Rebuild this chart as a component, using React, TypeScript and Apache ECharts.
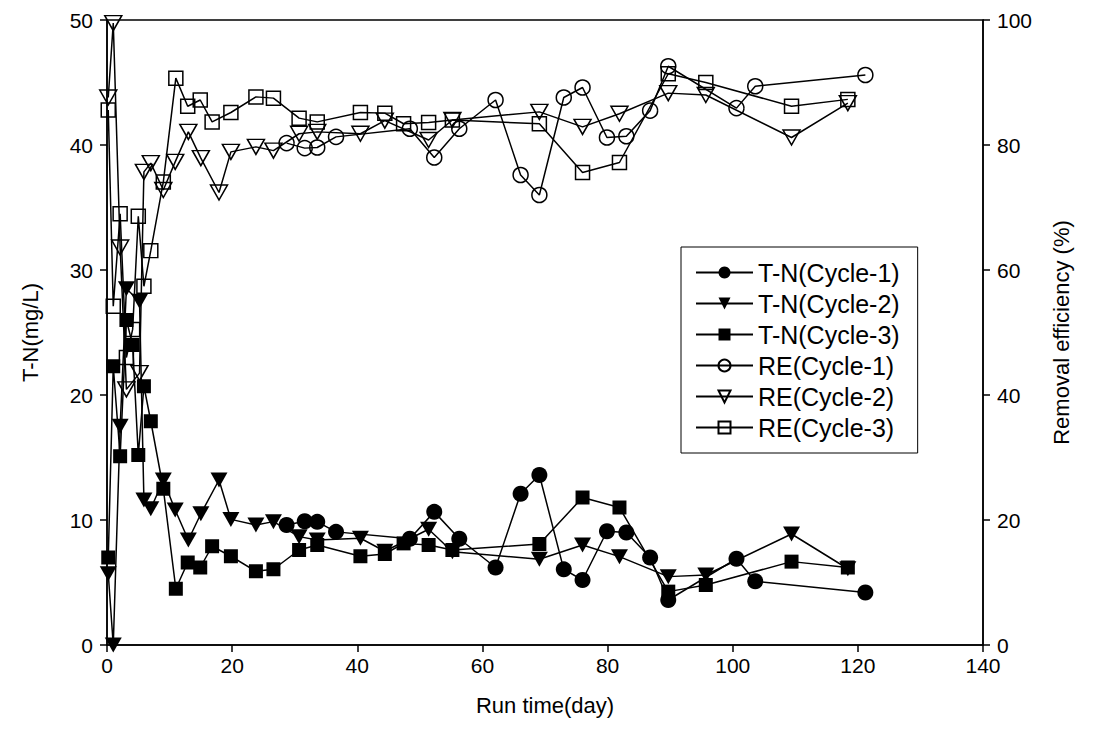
import React, { useEffect, useRef } from "react";
import * as echarts from "echarts";

const xTicks = { min: 0, max: 140, interval: 20 };

const c1Days = [28.7, 31.6, 33.6, 36.6, 48.4, 52.3, 56.3, 62.1, 66.1, 69.1, 73.0, 76.0, 79.9, 83.0, 86.8, 89.7, 100.6, 103.6, 121.2];
const tnC1 = [9.6, 9.9, 9.85, 9.05, 8.5, 10.65, 8.5, 6.2, 12.1, 13.6, 6.05, 5.2, 9.1, 9.0, 7.0, 3.6, 6.9, 5.1, 4.2];
const reC1 = [80.3, 79.5, 79.6, 81.3, 82.6, 78.0, 82.6, 87.2, 75.2, 72.0, 87.6, 89.2, 81.2, 81.4, 85.5, 92.6, 85.9, 89.4, 91.2];

const c2Days = [0.2, 1.0, 2.1, 3.1, 5.2, 5.9, 7.0, 9.0, 10.9, 13.0, 15.0, 17.9, 19.8, 23.8, 26.6, 30.7, 33.6, 40.5, 44.4, 51.4, 55.2, 69.1, 76.0, 81.9, 89.7, 95.7, 109.4, 118.4];
const tnC2 = [5.7, 0, 17.5, 28.5, 27.5, 11.6, 10.9, 13.2, 10.8, 8.4, 10.5, 13.2, 10.05, 9.6, 9.87, 8.67, 8.4, 8.54, 7.5, 9.26, 7.46, 6.86, 8.0, 7.07, 5.47, 5.6, 8.88, 6.1];
const reC2 = [87.6, 99.5, 63.6, 40.9, 43.5, 75.7, 77.1, 72.8, 77.3, 82.1, 77.9, 72.4, 78.9, 79.7, 79.1, 81.8, 82.1, 81.8, 83.9, 80.8, 84.0, 85.3, 82.9, 85.0, 88.3, 88.0, 81.2, 86.7];

const c3Days = [0.2, 1.0, 2.1, 3.1, 4.1, 5.0, 5.9, 7.0, 9.0, 11.0, 12.9, 14.9, 16.8, 19.8, 23.8, 26.6, 30.7, 33.6, 40.5, 44.4, 47.4, 51.4, 55.2, 69.1, 76.0, 81.9, 89.7, 95.7, 109.4, 118.4];
const tnC3 = [7.0, 22.3, 15.1, 26.0, 24.0, 15.2, 20.7, 17.9, 12.5, 4.5, 6.6, 6.2, 7.9, 7.1, 5.9, 6.06, 7.6, 8.0, 7.1, 7.28, 8.13, 8.0, 7.6, 8.08, 11.8, 11.0, 4.27, 4.8, 6.67, 6.2];
const reC3 = [85.6, 54.2, 69.0, 46.0, 50.5, 68.6, 57.4, 63.1, 74.1, 90.7, 86.2, 87.2, 83.7, 85.2, 87.7, 87.5, 84.3, 83.7, 85.2, 85.1, 83.4, 83.6, 84.0, 83.4, 75.6, 77.2, 91.4, 90.0, 86.2, 87.3];

const FONT = "'Liberation Sans', Arial, sans-serif";
const DOWN_TRI = "path://M0,0L2,0L1,1.75Z";

const zip = (xs: number[], ys: number[]) => xs.map((x, i) => [x, ys[i]]);

function mk(name: string, xs: number[], ys: number[], symbol: string, size: any, filled: boolean, axis: number) {
  return {
    name,
    type: "line",
    yAxisIndex: axis,
    data: zip(xs, ys),
    symbol,
    symbolSize: size,
    showSymbol: true,
    lineStyle: { color: "#000", width: 1.5 },
    itemStyle: filled
      ? { color: "#000", borderColor: "#000", borderWidth: 0 }
      : { color: "rgba(255,255,255,0)", borderColor: "#000", borderWidth: 1.5 },
    emphasis: { disabled: true },
  };
}

export default function App() {
  const ref = useRef<HTMLDivElement>(null);
  useEffect(() => {
    if (!ref.current) return;
    const chart = echarts.init(ref.current, undefined, { renderer: "svg" });
    const axisCommon = {
      axisLine: { show: true, lineStyle: { color: "#000", width: 1.5 } },
      axisTick: { show: true, inside: false, length: 7, lineStyle: { color: "#000", width: 1.5 } },
      splitLine: { show: false },
      axisLabel: { color: "#000", fontSize: 21, fontFamily: FONT },
      nameTextStyle: { color: "#000", fontSize: 22, fontFamily: FONT },
    };
    chart.setOption({
      animation: false,
      backgroundColor: "#fff",
      grid: { left: 107, top: 20, width: 876, height: 625, show: true, borderColor: "#000", borderWidth: 1.5, backgroundColor: "transparent" },
      xAxis: {
        type: "value",
        ...xTicks,
        name: "Run time(day)",
        nameLocation: "middle",
        nameGap: 49,
        ...axisCommon,
        axisLabel: { ...axisCommon.axisLabel, margin: 10 },
      },
      yAxis: [
        {
          type: "value",
          min: 0,
          max: 50,
          interval: 10,
          name: "T-N(mg/L)",
          nameLocation: "middle",
          nameGap: 66,
          ...axisCommon,
          axisLabel: { ...axisCommon.axisLabel, margin: 14 },
        },
        {
          type: "value",
          min: 0,
          max: 100,
          interval: 20,
          position: "right",
          name: "Removal efficiency (%)",
          nameLocation: "middle",
          nameGap: 67,
          ...axisCommon,
          axisLabel: { ...axisCommon.axisLabel, margin: 14 },
        },
      ],
      legend: {
        show: true,
        orient: "vertical",
        left: 681,
        top: 247,
        backgroundColor: "#fff",
        borderColor: "#000",
        borderWidth: 1,
        padding: [13, 18, 13, 14],
        itemWidth: 57,
        itemHeight: 15,
        itemGap: 6,
        textStyle: { color: "#000", fontSize: 25, fontFamily: FONT, lineHeight: 25 },
        data: ["T-N(Cycle-1)", "T-N(Cycle-2)", "T-N(Cycle-3)", "RE(Cycle-1)", "RE(Cycle-2)", "RE(Cycle-3)"],
      },
      series: [
        mk("T-N(Cycle-1)", c1Days, tnC1, "circle", 16, true, 0),
        mk("T-N(Cycle-2)", c2Days, tnC2, DOWN_TRI, [17, 15], true, 0),
        mk("T-N(Cycle-3)", c3Days, tnC3, "rect", 14, true, 0),
        mk("RE(Cycle-1)", c1Days, reC1, "circle", 15, false, 1),
        mk("RE(Cycle-2)", c2Days, reC2, DOWN_TRI, [17, 15], false, 1),
        mk("RE(Cycle-3)", c3Days, reC3, "rect", 14, false, 1),
      ],
    });
    return () => chart.dispose();
  }, []);
  return <div ref={ref} style={{ position: "fixed", left: 0, top: 0, width: 1094, height: 748 }} />;
}
